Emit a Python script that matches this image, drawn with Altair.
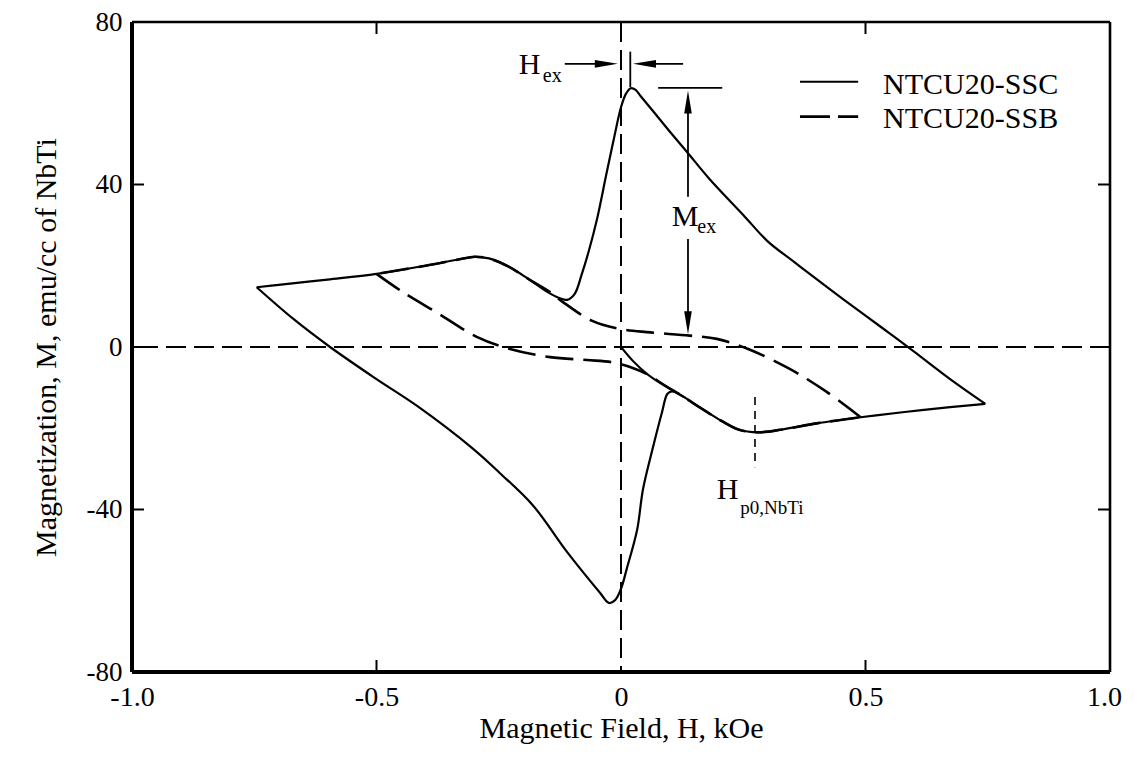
import altair as alt
import pandas as pd

FONT = "Liberation Serif"

# ---------------- data ----------------
# NTCU20-SSC (solid loop): upper branch left->right, then lower branch right->left
ssc_H = [-0.745, -0.70, -0.60, -0.50, -0.40, -0.33, -0.30, -0.27, -0.23, -0.19, -0.15,
         -0.125, -0.11, -0.095, -0.08, -0.065, -0.049, -0.03, -0.015, 0.0, 0.01, 0.02,
         0.03, 0.04, 0.07, 0.10, 0.135, 0.18, 0.25, 0.30, 0.35, 0.40, 0.454, 0.50, 0.55,
         0.60, 0.673, 0.745,
         0.673, 0.58, 0.49, 0.40, 0.33, 0.28, 0.24, 0.196, 0.16, 0.127, 0.105, 0.095,
         0.084, 0.066, 0.045, 0.033, 0.012, 0.0, -0.012, -0.025, -0.043, -0.11,
         -0.18, -0.248, -0.303, -0.417, -0.50, -0.595, -0.67, -0.745]
ssc_M = [14.7, 15.3, 16.6, 18.0, 20.0, 21.6, 22.2, 21.8, 19.8, 16.8, 13.5,
         12.0, 11.6, 13.0, 18.0, 24.0, 31.5, 42.5, 51.0, 59.0, 62.3, 63.7,
         63.3, 61.8, 57.4, 53.0, 48.0, 41.5, 32.5, 26.0, 21.3, 16.7, 11.8, 7.7, 3.3,
         -1.2, -7.9, -14.0,
         -14.8, -16.0, -17.3, -18.8, -20.3, -21.0, -20.3, -17.5, -14.8, -12.2, -10.9, -11.5,
         -16.0, -24.4, -35.0, -45.0, -54.5, -59.5, -62.3, -63.0, -60.5, -50.5,
         -39.0, -31.0, -25.0, -14.5, -7.9, 0.0, 6.9, 14.7]

# NTCU20-SSB (dashed loop): descending branch then ascending branch
ssb_H = [-0.50, -0.446, -0.37, -0.295, -0.227, -0.145, -0.07, -0.016, 0.02, 0.053, 0.09,
         0.127, 0.16, 0.196, 0.24, 0.28, 0.33, 0.40, 0.49,
         0.42, 0.345, 0.26, 0.196, 0.14, 0.06, 0.0, -0.06, -0.118, -0.145, -0.19, -0.23,
         -0.27, -0.30, -0.33, -0.40, -0.50]
ssb_M = [18.0, 13.5, 8.0, 2.5, -0.5, -2.5, -3.2, -3.8, -5.0, -6.7, -9.5,
         -12.2, -14.8, -17.5, -20.3, -21.0, -20.3, -18.8, -17.3,
         -11.0, -5.4, -0.5, 2.0, 2.8, 3.6, 4.4, 6.5, 11.0, 13.5, 16.8, 19.8,
         21.8, 22.2, 21.6, 20.0, 18.0]

# initial (virgin) curve from the origin
vir_H = [0.0, 0.025, 0.055, 0.09, 0.127]
vir_M = [0.0, -3.5, -6.8, -9.6, -12.2]

x_tick_values = [-0.5, 0.5]
y_tick_values = [-40, 40]
x_label_values = [-1.0, -0.5, 0.0, 0.5, 1.0]
y_label_values = [-80, -40, 0, 40, 80]

# ---------------- scales / axes ----------------
xs = alt.Scale(domain=[-1, 1], nice=False, zero=False)
ys = alt.Scale(domain=[-80, 80], nice=False, zero=False)
x_axis = alt.Axis(values=x_label_values, domain=False, ticks=False, grid=False,
                  labelExpr="datum.value == 0 ? '0' : (datum.value < 0 ? '-' : '') + format(abs(datum.value), '.1f')",
                  labelFont=FONT, labelFontSize=28, labelColor="black", labelPadding=11,
                  labelFlush=False,
                  labelOffset={"condition": {"test": "datum.value == 1", "value": -6}, "value": 0},
                  title="Magnetic Field, H, kOe", titleFont=FONT, titleFontSize=30,
                  titleFontWeight="normal", titleColor="black", titlePadding=2)
y_axis = alt.Axis(values=y_label_values, domain=False, ticks=False, grid=False,
                  labelExpr="'' + datum.value",
                  labelFont=FONT, labelFontSize=27, labelColor="black", labelPadding=10,
                  labelFlush=False,
                  title="Magnetization, M, emu/cc of NbTi", titleFont=FONT, titleFontSize=30,
                  titleFontWeight="normal", titleColor="black", titlePadding=25)

X = alt.X("H:Q", scale=xs, axis=x_axis)
Y = alt.Y("M:Q", scale=ys, axis=y_axis)


def df_branches(hs, ms):
    tip = hs.index(max(hs))
    br = [0 if i <= tip else 1 for i in range(len(hs))]
    df = pd.DataFrame({"H": list(hs), "M": list(ms), "o": list(range(len(hs))), "b": br})
    # repeat the tip point at the start of the second branch so branches join
    extra = pd.DataFrame({"H": [hs[tip]], "M": [ms[tip]], "o": [tip], "b": [1]})
    return pd.concat([df, extra], ignore_index=True)


def df_line(hs, ms):
    return pd.DataFrame({"H": hs, "M": ms, "o": list(range(len(hs)))})


# zero lines
zero_v = alt.Chart(pd.DataFrame({"H": [0.0]})).mark_rule(
    color="black", strokeWidth=2, strokeDash=[20, 8]).encode(x=X)
zero_h = alt.Chart(pd.DataFrame({"M": [0.0]})).mark_rule(
    color="black", strokeWidth=2, strokeDash=[20, 8]).encode(y=Y)

ssc = alt.Chart(df_branches(ssc_H, ssc_M)).mark_line(
    color="black", strokeWidth=2.2, interpolate="catmull-rom").encode(
    x=X, y=Y, order="o:Q", detail="b:N")
ssb = alt.Chart(df_branches(ssb_H, ssb_M)).mark_line(
    color="black", strokeWidth=2.6, strokeDash=[28, 10], interpolate="catmull-rom").encode(
    x=X, y=Y, order="o:Q", detail="b:N")
vir = alt.Chart(df_line(vir_H, vir_M)).mark_line(
    color="black", strokeWidth=2.0, interpolate="catmull-rom").encode(x=X, y=Y, order="o:Q")

# inward ticks
TX = 12 / 489.0
TY = 12 / 4.06
tick_b = alt.Chart(pd.DataFrame({"H": x_tick_values, "M": [-80] * 2, "M2": [-80 + TY] * 2})).mark_rule(
    color="black", strokeWidth=2).encode(x=X, y=Y, y2="M2")
tick_t = alt.Chart(pd.DataFrame({"H": x_tick_values, "M": [80] * 2, "M2": [80 - TY] * 2})).mark_rule(
    color="black", strokeWidth=2).encode(x=X, y=Y, y2="M2")
tick_l = alt.Chart(pd.DataFrame({"M": y_tick_values + [0], "H": [-1] * 3, "H2": [-1 + TX] * 3})).mark_rule(
    color="black", strokeWidth=2).encode(x=X, x2="H2", y=Y)
tick_r = alt.Chart(pd.DataFrame({"M": y_tick_values + [0], "H": [1] * 3, "H2": [1 - TX] * 3})).mark_rule(
    color="black", strokeWidth=2).encode(x=X, x2="H2", y=Y)


# ---------------- annotations ----------------
def seg(h1, m1, h2, m2, width=1.8, dash=None):
    kw = dict(color="black", strokeWidth=width)
    if dash:
        kw["strokeDash"] = dash
    return alt.Chart(pd.DataFrame({"H": [h1], "M": [m1], "H2": [h2], "M2": [m2]})).mark_rule(**kw).encode(
        x=X, y=Y, x2="H2", y2="M2")


def head(h, m, path):
    return alt.Chart(pd.DataFrame({"H": [h], "M": [m]})).mark_point(
        shape=path, filled=True, size=529, color="black", opacity=1, strokeWidth=0).encode(x=X, y=Y)


def label(h, m, txt, size=30, align="left"):
    return alt.Chart(pd.DataFrame({"H": [h], "M": [m]})).mark_text(
        text=txt, font=FONT, fontSize=size, align=align, baseline="alphabetic", color="black").encode(x=X, y=Y)


RIGHT = "M-1,-0.33L1,0L-1,0.33Z"
LEFT = "M1,-0.33L-1,0L1,0.33Z"
UP = "M-0.33,1L0,-1L0.33,1Z"
DOWN = "M-0.33,-1L0,1L0.33,-1Z"

# frame (heavier on left and bottom, as in the print)
frame = [
    seg(-1, -80, 1, -80, width=4),
    seg(-1, -80, -1, 80, width=4),
    seg(-1, 80, 1, 80, width=2.6),
    seg(1, -80, 1, 80, width=2.6),
]

ann = [
    # H_ex
    seg(-0.115, 69.7, -0.02, 69.7), head(-0.030, 69.7, RIGHT),
    seg(0.127, 69.7, 0.04, 69.7), head(0.048, 69.7, LEFT),
    seg(0.019, 72.7, 0.019, 64.0),
    label(-0.209, 67.2, "H"), label(-0.160, 65.3, "ex", size=20),
    # M_ex
    seg(0.076, 63.8, 0.207, 63.8),
    seg(0.137, 58.0, 0.137, 37.0), head(0.137, 60.3, UP),
    seg(0.137, 26.6, 0.137, 8.0), head(0.137, 6.0, DOWN),
    label(0.104, 29.8, "M"), label(0.156, 28.0, "ex", size=20),
    # H_p0,NbTi
    seg(0.274, -12.3, 0.274, -29.6, width=1.6, dash=[8, 6]),
    label(0.196, -37.4, "H"), label(0.244, -41.1, "p0,NbTi", size=19),
    # legend
    seg(0.366, 65.3, 0.485, 65.3, width=2),
    seg(0.366, 56.7, 0.485, 56.7, width=2.6, dash=[30, 8]),
    label(0.536, 62.4, "NTCU20-SSC"), label(0.536, 53.8, "NTCU20-SSB"),
]

chart = alt.layer(zero_v, zero_h, ssc, ssb, vir, tick_b, tick_t, tick_l, tick_r, *frame, *ann).properties(
    width=978, height=650,
    autosize=alt.AutoSizeParams(type="none"),
    padding={"left": 124, "top": 14, "right": 16, "bottom": 75},
).configure_view(stroke=None).configure(background="white")

chart.save("out.html", embed_options={"renderer": "svg", "actions": False})
